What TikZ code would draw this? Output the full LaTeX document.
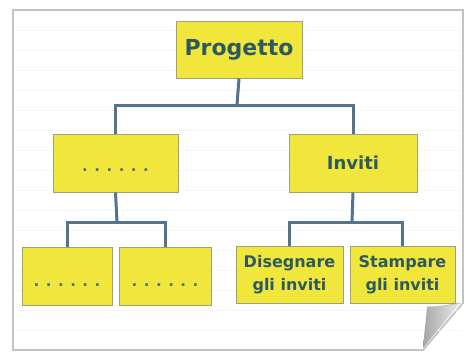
\documentclass[tikz,border=0pt]{standalone}
\usepackage{fontspec}
\setmainfont{DejaVu Sans}
\usetikzlibrary{positioning}
\definecolor{boxyellow}{RGB}{240,230,60}
\definecolor{boxedge}{RGB}{160,160,120}
\definecolor{linkblue}{RGB}{85,115,140}
\definecolor{inkteal}{RGB}{45,90,95}
\definecolor{paperedge}{RGB}{195,195,195}
\newcommand{\puntini}{.\hspace{6.5pt}.\hspace{6.5pt}.\hspace{6.5pt}.\hspace{6.5pt}.\hspace{6.5pt}.}
\tikzset{
  blocco/.style={draw=boxedge, line width=1pt, fill=boxyellow, inner sep=0pt,
    text=inkteal, font=\bfseries, align=center},
  vuotobox/.style={blocco, font=\bfseries\fontsize{15}{17}\selectfont, text=inkteal!85},
  legame/.style={draw=linkblue, line width=3pt}
}
\begin{document}
\begin{tikzpicture}[x=1pt,y=1pt,yscale=-1,xscale=1]
\useasboundingbox (0,0) rectangle (471,361);

% sheet of paper with curled corner
\draw [paperedge, line width=1.8pt, fill=white] (13,10) -- (463,10) -- (463,303) -- (423,350) -- (13,350) -- cycle ;
\foreach \y in {30,50,...,330} {
  \draw [black!4, line width=0.6pt] (15,\y) -- (460,\y) ;
}
\shade [left color=black!35, right color=black!8] (427,307) .. controls (440,307) and (450,305) .. (460,303) -- (423,348) .. controls (424,335) and (426,320) .. (427,307) -- cycle ;
\draw [paperedge, line width=1pt] (427,307) .. controls (440,307) and (450,305) .. (460,303) ;

% boxes
\node [blocco, minimum width=126pt, minimum height=56pt, font=\bfseries\fontsize{22}{24}\selectfont] (progetto) at (239,50) {Progetto};
\node [vuotobox, minimum width=125pt, minimum height=58pt] (vuoto) at (115.5,163) {\raisebox{-8pt}[0pt][0pt]{\puntini}};
\node [blocco, minimum width=128pt, minimum height=58pt, font=\bfseries\fontsize{18}{20}\selectfont] (inviti) at (353,163) {Inviti};
\node [vuotobox, minimum width=90pt, minimum height=58pt] (vuotoA) at (67,276) {\raisebox{-10pt}[0pt][0pt]{\puntini}};
\node [vuotobox, minimum width=92pt, minimum height=58pt] (vuotoB) at (165,276) {\raisebox{-10pt}[0pt][0pt]{\puntini}};
\node [blocco, minimum width=107pt, minimum height=57pt, font=\bfseries\fontsize{16}{23}\selectfont] (disegnare) at (289.5,274.5) {Disegnare\\gli inviti};
\node [blocco, minimum width=105pt, minimum height=57pt, font=\bfseries\fontsize{16}{23}\selectfont] (stampare) at (402.5,274.5) {Stampare\\gli inviti};

% connectors
\coordinate (ramo) at (237,105);
\coordinate (ramoS) at (117,222);
\coordinate (ramoD) at (352,222);
\draw [legame] (progetto.south) -- (ramo) ;
\draw [legame] (vuoto.north) |- (ramo) -| (inviti.north) ;
\draw [legame] (vuoto.south) -- (ramoS) ;
\draw [legame] (vuotoA.north) |- (ramoS) -| (vuotoB.north) ;
\draw [legame] (inviti.south) -- (ramoD) ;
\draw [legame] (disegnare.north) |- (ramoD) -| (stampare.north) ;

\end{tikzpicture}
\end{document}
